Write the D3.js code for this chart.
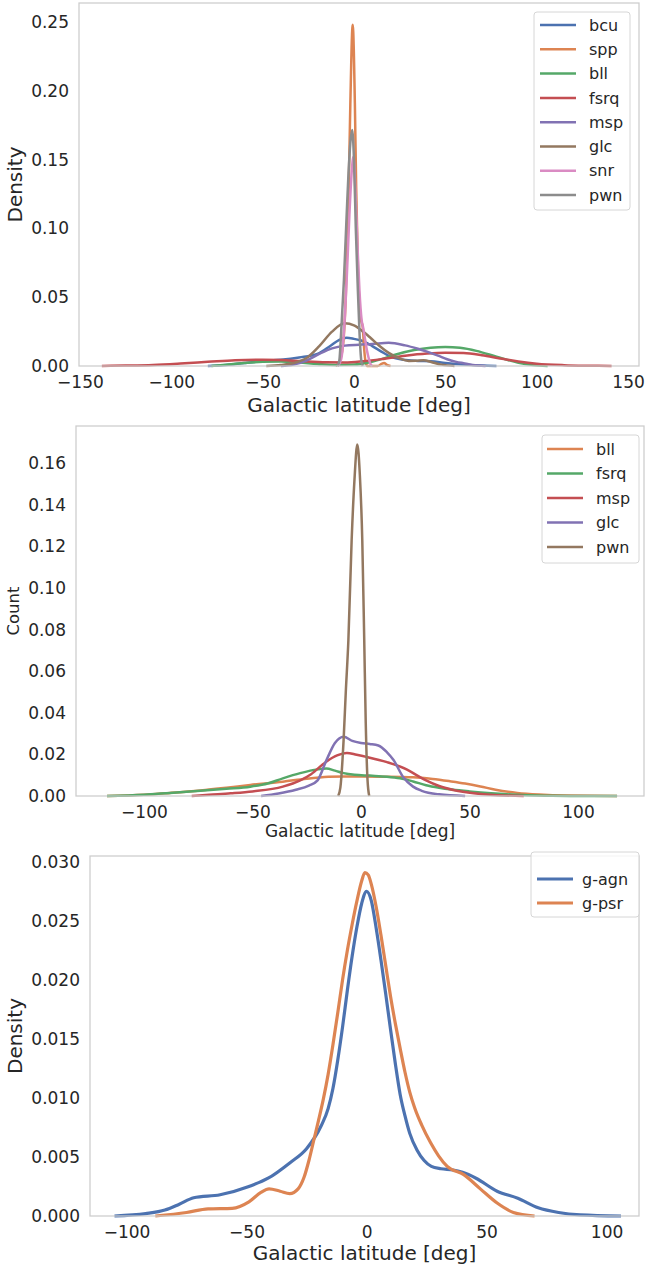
<!DOCTYPE html>
<html>
<head>
<meta charset="utf-8">
<script src="https://cdn.jsdelivr.net/npm/d3@7"></script>
<style>
  body { margin: 0; background: #fff; }
  svg { font-family: "DejaVu Sans", sans-serif; }
</style>
</head>
<body>
<svg id="chart" width="646" height="1270"></svg>
<script>
// seaborn "deep" palette
const deep = ['#4c72b0', '#dd8452', '#55a868', '#c44e52', '#8172b3', '#937860', '#da8bc3', '#8c8c8c'];

// ---- panel 1 : density per class ----
const p1Names = ['bcu', 'spp', 'bll', 'fsrq', 'msp', 'glc', 'snr', 'pwn'];
const p1XTicks = [-150, -100, -50, 0, 50, 100, 150];
const p1YTicks = [0, 0.05, 0.10, 0.15, 0.20, 0.25];

const bcu1 = [[-80,0],[-70,0.0008],[-60,0.0022],[-50,0.0035],[-40,0.0045],[-30,0.0062],[-20,0.0088],[-13,0.0145],[-8,0.019],[-4,0.0205],[0,0.0197],[4,0.0185],[10,0.0145],[15,0.0105],[20,0.0068],[27,0.0045],[35,0.0037],[42,0.0034],[50,0.0022],[60,0.001],[70,0.0003],[78,0]];
const spp1 = [[-10,0],[-8,0.003],[-6,0.015],[-4.5,0.05],[-3,0.12],[-2,0.19],[-0.7,0.248],[0.5,0.19],[1.2,0.13],[2.2,0.07],[3,0.045],[3.8,0.034],[4.8,0.028],[5.6,0.012],[6.5,0.002],[7.5,0],[13,0],[15,0.0015],[16.5,0.0022],[18,0.0008],[20,0]];
const bll1 = [[-78,0],[-70,0.001],[-60,0.0022],[-50,0.003],[-40,0.0032],[-30,0.0025],[-20,0.0015],[-10,0.0008],[0,0.001],[8,0.0025],[15,0.005],[22,0.008],[33,0.0116],[42,0.0133],[50,0.0138],[58,0.0132],[67,0.011],[78,0.0068],[90,0.0024],[98,0.0008],[106,0]];
const fsrq1 = [[-138,0],[-125,0.0003],[-110,0.0008],[-95,0.0018],[-80,0.003],[-65,0.0042],[-50,0.0046],[-40,0.0043],[-28,0.0034],[-15,0.0027],[-5,0.0026],[5,0.0035],[15,0.005],[28,0.0075],[40,0.0091],[50,0.0097],[60,0.0094],[70,0.0078],[80,0.0055],[90,0.0033],[100,0.0017],[115,0.0006],[128,0.0002],[141,0]];
const msp1 = [[-40,0],[-33,0.001],[-26,0.004],[-19,0.0088],[-12,0.0128],[-5,0.0148],[3,0.0155],[10,0.016],[19,0.0169],[28,0.015],[35,0.0125],[40,0.0104],[46,0.0075],[51,0.0049],[56,0.003],[60,0.002],[65,0.0008],[72,0]];
const glc1 = [[-48,0],[-40,0.0008],[-33,0.0022],[-26,0.0058],[-19,0.0145],[-12,0.025],[-5,0.031],[0,0.0295],[5,0.025],[9,0.0205],[14,0.0145],[19,0.0095],[25,0.0055],[30,0.0037],[34,0.0038],[38,0.0042],[43,0.0026],[48,0.001],[55,0]];
const snr1 = [[-9,0],[-7,0.005],[-5.5,0.025],[-4,0.0625],[-2.5,0.11],[-1.3,0.14],[-0.3,0.152],[0.7,0.13],[2,0.085],[3,0.055],[4.2,0.0334],[5,0.028],[6,0.02],[7,0.012],[8,0.006],[9.2,0.001],[10,0]];
const pwn1 = [[-9,0],[-8,0.004],[-7,0.025],[-5.5,0.0625],[-4,0.11],[-3,0.14],[-2,0.162],[-1,0.1715],[0,0.15],[1,0.1],[2,0.06],[3,0.025],[4,0.004],[4.8,0]];

// ---- panel 2 : selected classes ----
const p2Names = ['bll', 'fsrq', 'msp', 'glc', 'pwn'];
const p2XTicks = [-100, -50, 0, 50, 100];
const p2YTicks = [0, 0.02, 0.04, 0.06, 0.08, 0.10, 0.12, 0.14, 0.16];

const bll2 = [[-117,0],[-100,0.0006],[-88,0.0015],[-74,0.0027],[-62,0.004],[-51,0.0053],[-36,0.0069],[-25,0.0083],[-15,0.0092],[-8,0.0094],[0,0.0094],[10,0.0093],[24,0.009],[33,0.0082],[41,0.0071],[48,0.006],[55,0.0046],[62,0.003],[72,0.0015],[82,0.0007],[95,0.0002],[118,0]];
const fsrq2 = [[-117,0],[-100,0.0006],[-88,0.0015],[-74,0.0025],[-62,0.0035],[-51,0.0045],[-43,0.006],[-36,0.0085],[-28,0.011],[-20,0.0128],[-16,0.0132],[-12,0.0122],[-8,0.011],[-3,0.0102],[4,0.0098],[12,0.0093],[18,0.0085],[24,0.007],[30,0.0052],[36,0.004],[42,0.0031],[50,0.0022],[60,0.0013],[72,0.0006],[88,0.0001],[118,0]];
const msp2 = [[-78,0],[-70,0.0006],[-60,0.0013],[-50,0.0022],[-36,0.0045],[-28,0.0075],[-23,0.0105],[-16,0.0165],[-11,0.0195],[-6.5,0.0207],[-2,0.0198],[3,0.0187],[12,0.0163],[21,0.0128],[26,0.0098],[30,0.0075],[36,0.0048],[43,0.0028],[52,0.0013],[63,0.0004],[75,0]];
const glc2 = [[-46,0],[-38,0.0012],[-30,0.003],[-24,0.005],[-20,0.0075],[-16,0.017],[-12,0.0255],[-8,0.0285],[-4,0.0265],[0,0.0255],[4,0.025],[8,0.0243],[12,0.021],[15,0.0173],[19.5,0.009],[24,0.0045],[28,0.0025],[36,0.0008],[48,0]];
const pwn2 = [[-10.5,0],[-9.5,0.004],[-8,0.027],[-7,0.05],[-5.8,0.075],[-4.3,0.123],[-3,0.152],[-1.7,0.169],[-0.5,0.154],[0.6,0.123],[1.5,0.075],[2.2,0.035],[3,0.008],[3.8,0]];

// ---- panel 3 : gamma agn vs psr ----
const p3Names = ['g-agn', 'g-psr'];
const p3XTicks = [-100, -50, 0, 50, 100];
const p3YTicks = [0, 0.005, 0.010, 0.015, 0.020, 0.025, 0.030];

const agn3 = [[-105,0],[-92,0.0002],[-84,0.0005],[-78,0.001],[-72,0.00155],[-61,0.0018],[-49,0.0025],[-41,0.0032],[-32,0.0045],[-25,0.0057],[-19,0.0076],[-16,0.0091],[-14,0.0108],[-12,0.0132],[-10,0.016],[-8,0.0191],[-6,0.022],[-4,0.0245],[-2,0.0265],[0,0.0275],[2,0.0267],[4,0.0244],[6,0.0217],[8,0.0188],[10,0.0158],[12,0.0129],[14,0.0103],[16,0.0085],[18,0.007],[21,0.0056],[24,0.0047],[27,0.0042],[31,0.004],[36,0.0039],[40,0.0037],[45.6,0.0032],[54.4,0.0021],[63,0.0015],[71.5,0.0007],[80,0.0003],[89,0.0001],[106,0]];
const psr3 = [[-88,0],[-75,0.0003],[-66,0.0006],[-56,0.00065],[-49,0.0012],[-44,0.002],[-40.6,0.0023],[-36,0.0021],[-32,0.0019],[-28.5,0.0023],[-26,0.0033],[-24,0.0047],[-22,0.0064],[-20,0.0081],[-18,0.0099],[-16,0.012],[-14,0.0145],[-12,0.0172],[-10,0.02],[-8,0.0225],[-6,0.0247],[-4,0.0267],[-2,0.0284],[-0.7,0.0291],[0.7,0.0289],[2,0.0281],[4,0.0262],[6,0.0238],[8,0.0212],[10,0.0186],[12,0.0163],[14,0.0142],[16,0.0122],[18,0.0105],[20,0.0092],[23,0.0077],[26.7,0.0062],[30,0.0051],[33.6,0.0042],[40.5,0.0035],[47.4,0.0023],[54.4,0.0011],[61.2,0.0003],[70,0]];

const svg = d3.select('#chart');
const textCol = '#262626';

function panel(cfg) {
  const xScale = d3.scaleLinear().domain(cfg.xDomain).range([cfg.left, cfg.right]);
  const yScale = d3.scaleLinear().domain(cfg.yDomain).range([cfg.bottom, cfg.top]);
  const g = svg.append('g');

  const line = d3.line()
    .x(d => xScale(d[0]))
    .y(d => yScale(d[1]))
    .curve(d3.curveMonotoneX);

  cfg.series.forEach((s, i) => {
    g.append('path')
      .datum(s)
      .attr('fill', 'none')
      .attr('stroke', cfg.colors[i])
      .attr('stroke-width', cfg.lw)
      .attr('stroke-linejoin', 'round')
      .attr('d', line);
  });

  // spines
  g.append('rect')
    .attr('x', cfg.left).attr('y', cfg.top)
    .attr('width', cfg.right - cfg.left).attr('height', cfg.bottom - cfg.top)
    .attr('fill', 'none').attr('stroke', '#cccccc').attr('stroke-width', 1.25);

  const xAxis = d3.axisBottom(xScale).tickValues(cfg.xTicks).tickSize(0).tickPadding(10)
    .tickFormat(d3.format('d'));
  const xg = g.append('g').attr('transform', `translate(0,${cfg.bottom})`).call(xAxis);
  xg.select('.domain').remove();
  xg.selectAll('text').attr('font-size', 17).attr('fill', textCol).attr('font-family', 'DejaVu Sans');

  const yAxis = d3.axisLeft(yScale).tickValues(cfg.yTicks).tickSize(0).tickPadding(10)
    .tickFormat(d3.format(cfg.yFmt));
  const yg = g.append('g').attr('transform', `translate(${cfg.left},0)`).call(yAxis);
  yg.select('.domain').remove();
  yg.selectAll('text').attr('font-size', 17).attr('fill', textCol).attr('font-family', 'DejaVu Sans');

  g.append('text')
    .attr('x', (cfg.left + cfg.right) / 2)
    .attr('y', cfg.xLabelY)
    .attr('text-anchor', 'middle')
    .attr('font-size', cfg.xLabelSize)
    .attr('fill', textCol)
    .text('Galactic latitude [deg]');

  g.append('text')
    .attr('transform', `translate(${cfg.yLabelX},${(cfg.top + cfg.bottom) / 2}) rotate(-90)`)
    .attr('text-anchor', 'middle')
    .attr('font-size', cfg.yLabelSize)
    .attr('fill', textCol)
    .text(cfg.yLabel);

  // legend
  const L = cfg.legend;
  const lg = g.append('g');
  lg.append('rect')
    .attr('x', L.x).attr('y', L.y).attr('width', L.w).attr('height', L.h)
    .attr('rx', 3).attr('fill', 'white').attr('fill-opacity', 0.8)
    .attr('stroke', '#d6d6d6').attr('stroke-width', 1);
  cfg.names.forEach((n, i) => {
    const cy = L.y0 + i * L.step;
    lg.append('line')
      .attr('x1', L.hx).attr('x2', L.hx + 36)
      .attr('y1', cy).attr('y2', cy)
      .attr('stroke', cfg.colors[i]).attr('stroke-width', cfg.lw);
    lg.append('text')
      .attr('x', L.tx).attr('y', cy).attr('dy', '0.35em')
      .attr('font-size', 16).attr('fill', textCol)
      .text(n);
  });
}

panel({
  left: 79, right: 639, top: 3, bottom: 366,
  xDomain: [-150.5, 156], yDomain: [0, 0.2638],
  xTicks: p1XTicks, yTicks: p1YTicks, yFmt: '.2f',
  series: [bcu1, spp1, bll1, fsrq1, msp1, glc1, snr1, pwn1],
  colors: deep, names: p1Names, lw: 2.5,
  xLabelY: 412, xLabelSize: 20,
  yLabel: 'Density', yLabelX: 22, yLabelSize: 20,
  legend: { x: 534, y: 12, w: 96, h: 198, y0: 25, step: 24.3, hx: 540, tx: 589 }
});

panel({
  left: 76, right: 644, top: 426, bottom: 796,
  xDomain: [-131.3, 130.4], yDomain: [0, 0.1779],
  xTicks: p2XTicks, yTicks: p2YTicks, yFmt: '.2f',
  series: [bll2, fsrq2, msp2, glc2, pwn2],
  colors: deep.slice(1, 6), names: p2Names, lw: 2.5,
  xLabelY: 837, xLabelSize: 17,
  yLabel: 'Count', yLabelX: 19, yLabelSize: 16.5,
  legend: { x: 542, y: 435, w: 97, h: 128, y0: 449, step: 24.5, hx: 547, tx: 596 }
});

panel({
  left: 90, right: 639, top: 856, bottom: 1216,
  xDomain: [-115.2, 113.5], yDomain: [0, 0.0305],
  xTicks: p3XTicks, yTicks: p3YTicks, yFmt: '.3f',
  series: [agn3, psr3],
  colors: deep.slice(0, 2), names: p3Names, lw: 3.2,
  xLabelY: 1260, xLabelSize: 20,
  yLabel: 'Density', yLabelX: 22, yLabelSize: 20,
  legend: { x: 531, y: 852, w: 108, h: 65, y0: 879, step: 24, hx: 537, tx: 582 }
});
</script>
</body>
</html>
